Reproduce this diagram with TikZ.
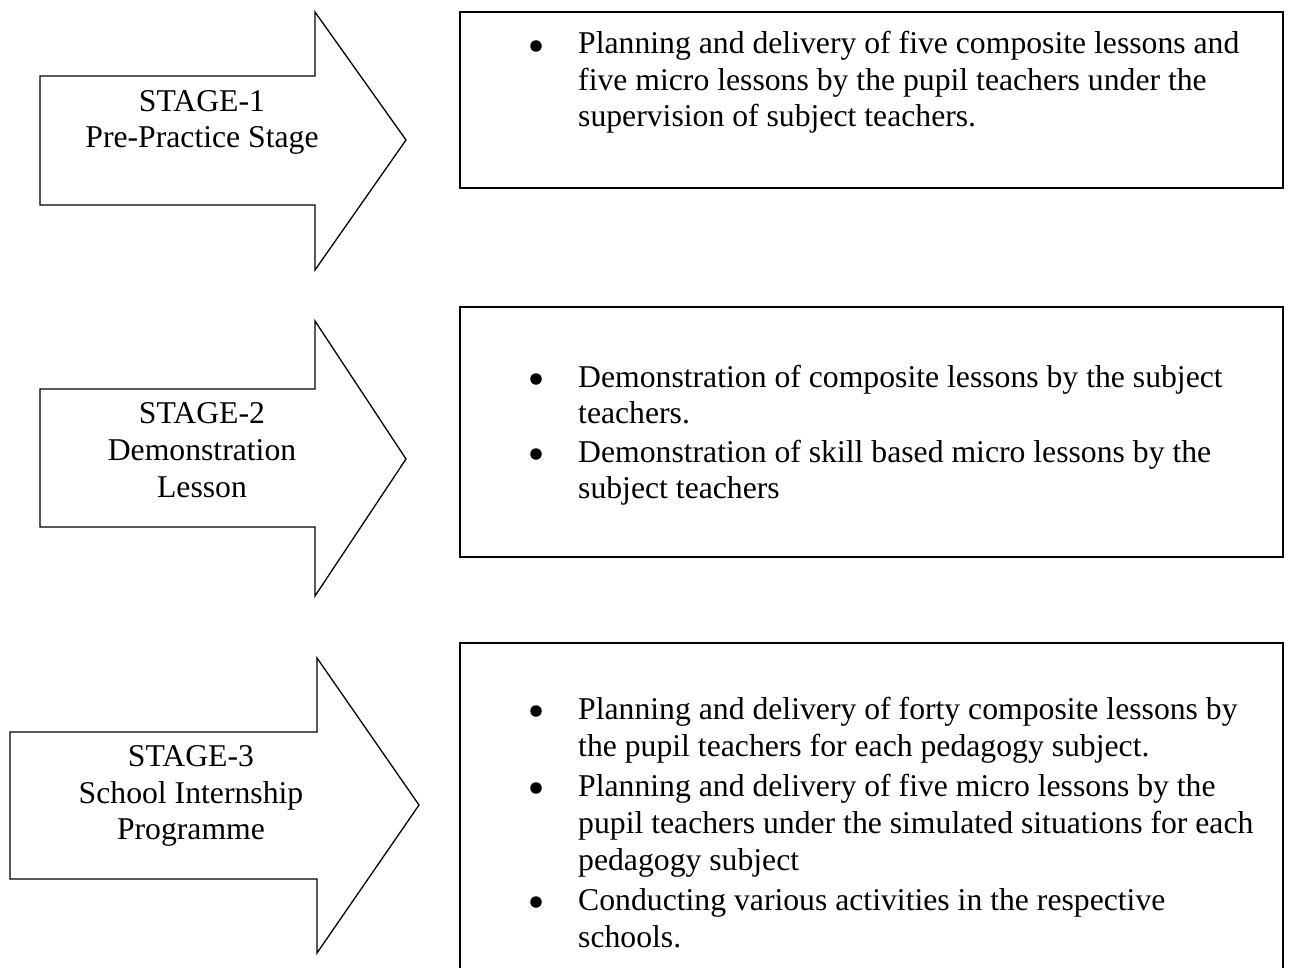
\documentclass[tikz,border=0pt]{standalone}
\usepackage{fontspec}
\setmainfont{Liberation Serif}
\begin{document}
\begin{tikzpicture}[x=1pt,y=-1pt,
  arrowshape/.style={draw=black,line width=1.3pt,line join=miter,fill=white},
  boxline/.style={draw=black,line width=1.7pt},
  lbl/.style={font=\fontsize{31.7}{36.5}\selectfont,inner sep=0pt,anchor=base},
  txt/.style={font=\fontsize{31.7}{36.5}\selectfont,inner sep=0pt,anchor=base west},
  blt/.style={circle,fill=black,inner sep=0pt,minimum size=11.5pt}]
\useasboundingbox (0,0) rectangle (1289,968);
\clip (0,0) rectangle (1289,968);
\fill[white] (0,0) rectangle (1289,968);

% arrows
\draw[arrowshape] (40,76) -- (315,76) -- (315,12) -- (406,140) -- (315,270) -- (315,205) -- (40,205) -- cycle;
\draw[arrowshape] (40,389) -- (315,389) -- (315,321) -- (406,459) -- (315,596) -- (315,527) -- (40,527) -- cycle;
\draw[arrowshape] (10,732) -- (317,732) -- (317,658) -- (419,805) -- (317,953) -- (317,879) -- (10,879) -- cycle;

% boxes
\draw[boxline] (460,12) rectangle (1283,188);
\draw[boxline] (460,307) rectangle (1283,557);
\draw[boxline] (460,1010) -- (460,643) -- (1283,643) -- (1283,1010);

% arrow labels
\node[lbl] (s1a) at (202,112) {STAGE-1};
\node[lbl] (s1b) at (202,148) {Pre-Practice Stage};
\node[lbl] (s2a) at (202,423) {STAGE-2};
\node[lbl] (s2b) at (202,460) {Demonstration};
\node[lbl] (s2c) at (202,497) {Lesson};
\node[lbl] (s3a) at (191,766) {STAGE-3};
\node[lbl] (s3b) at (191,803) {School Internship};
\node[lbl] (s3c) at (191,839) {Programme};

% box 1
\node[blt] (b1a) at (536,46) {};
\node[txt] (t1a) at (578,54) {Planning and delivery of five composite lessons and};
\node[txt] (t1b) at (578,90.5) {five micro lessons by the pupil teachers under the};
\node[txt] (t1c) at (578,127) {supervision of subject teachers.};

% box 2
\node[blt] (b2a) at (536,379) {};
\node[txt] (t2a) at (578,387) {Demonstration of composite lessons by the subject};
\node[txt] (t2b) at (578,423) {teachers.};
\node[blt] (b2b) at (536,454) {};
\node[txt] (t2c) at (578,462) {Demonstration of skill based micro lessons by the};
\node[txt] (t2d) at (578,498) {subject teachers};

% box 3
\node[blt] (b3a) at (536,711) {};
\node[txt] (t3a) at (578,719) {Planning and delivery of forty composite lessons by};
\node[txt] (t3b) at (578,756) {the pupil teachers for each pedagogy subject.};
\node[blt] (b3b) at (536,788) {};
\node[txt] (t3c) at (578,796) {Planning and delivery of five micro lessons by the};
\node[txt] (t3d) at (578,833) {pupil teachers under the simulated situations for each};
\node[txt] (t3e) at (578,870) {pedagogy subject};
\node[blt] (b3c) at (536,902) {};
\node[txt] (t3f) at (578,910) {Conducting various activities in the respective};
\node[txt] (t3g) at (578,947) {schools.};
\end{tikzpicture}
\end{document}
